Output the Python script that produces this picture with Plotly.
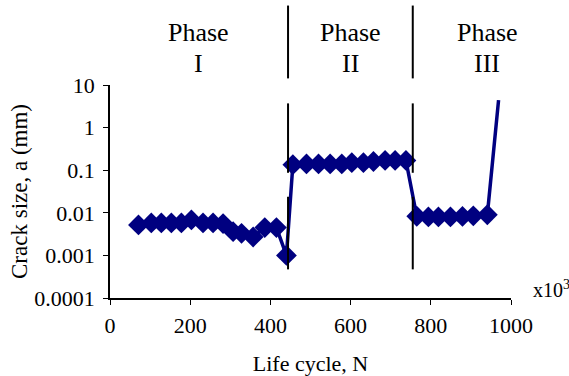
import plotly.graph_objects as go

# Data (life cycle in x10^3, crack size in mm)
cycles = [71, 103, 128, 153, 178, 203, 232, 257, 282, 307, 328, 357, 386, 415, 440,
          456, 490, 520, 549, 578, 603, 632, 657, 686, 711, 738,
          765, 794, 819, 849, 879, 906, 941, 969]
crack = [0.0052, 0.0058, 0.0058, 0.0058, 0.0058, 0.0068, 0.0058, 0.0058, 0.0056, 0.0036, 0.0033, 0.0027, 0.0045, 0.0045, 0.001,
         0.135, 0.14, 0.14, 0.14, 0.14, 0.15, 0.15, 0.16, 0.17, 0.17, 0.17,
         0.0083, 0.008, 0.008, 0.008, 0.0082, 0.0085, 0.009, 4.4]
marker_shown = [True] * 33 + [False]

phase_bounds = [444, 755]
phase_names = ["I", "II", "III"]
phase_label_x = [221, 599, 941]

ytick_vals = [10, 1, 0.1, 0.01, 0.001, 0.0001]
ytick_text = ["10", "1", "0.1", "0.01", "0.001", "0.0001"]
xtick_vals = [0, 200, 400, 600, 800, 1000]

FONT = "Times New Roman, Liberation Serif, serif"
NAVY = "#000080"

fig = go.Figure()
fig.add_trace(go.Scatter(
    x=cycles, y=crack, mode="lines+markers",
    line=dict(color=NAVY, width=3.5),
    marker=dict(symbol="diamond", color=NAVY, opacity=1,
                size=[16 if s else 0 for s in marker_shown],
                line=dict(width=0)),
    showlegend=False, hoverinfo="skip"))

# phase boundary lines inside the plot (two segments each)
for xb in phase_bounds:
    for (ya, yb) in [(3.7, 0.087), (0.0238, 0.00047)]:
        fig.add_trace(go.Scatter(x=[xb, xb], y=[ya, yb], mode="lines",
                                 line=dict(color="black", width=2),
                                 showlegend=False, hoverinfo="skip"))
    fig.add_shape(type="line", xref="x", yref="paper", x0=xb, x1=xb,
                  y0=1.031, y1=1.373, line=dict(color="black", width=2))

for name, xl in zip(phase_names, phase_label_x):
    fig.add_annotation(x=xl, xref="x", y=1.245, yref="paper", text="Phase",
                       showarrow=False, yanchor="middle",
                       font=dict(family=FONT, size=26, color="black"))
    fig.add_annotation(x=xl, xref="x", y=1.1, yref="paper", text=name,
                       showarrow=False, yanchor="middle",
                       font=dict(family=FONT, size=26, color="black"))

fig.add_annotation(x=1.05, xref="paper", y=-0.025, yref="paper",
                   text="x10<sup>3</sup>", showarrow=False,
                   xanchor="left", yanchor="bottom",
                   font=dict(family=FONT, size=20, color="black"))

fig.update_layout(
    width=569, height=376,
    margin=dict(l=110, r=58, t=85, b=78),
    paper_bgcolor="white", plot_bgcolor="white",
    font=dict(family=FONT, size=22, color="black"),
    xaxis=dict(range=[0, 1000], tickvals=xtick_vals, showgrid=False, zeroline=False,
               showline=True, linecolor="black", linewidth=1.5, automargin=False,
               ticks="outside", ticklen=5, tickcolor="black", ticklabelstandoff=2,
               title=dict(text="Life cycle, N", font=dict(size=22), standoff=18)),
    yaxis=dict(type="log", range=[-4, 1], tickvals=ytick_vals, ticktext=ytick_text,
               showgrid=False, zeroline=False, showline=True, linecolor="black",
               linewidth=1.5, automargin=False, ticks="outside", ticklen=5, tickcolor="black",
               ticklabelstandoff=4,
               title=dict(text="Crack size, a (mm)", font=dict(size=23), standoff=0)),
)

fig.write_html("out.html", config={"displayModeBar": False},
               post_script="document.body.style.margin='0px';")
